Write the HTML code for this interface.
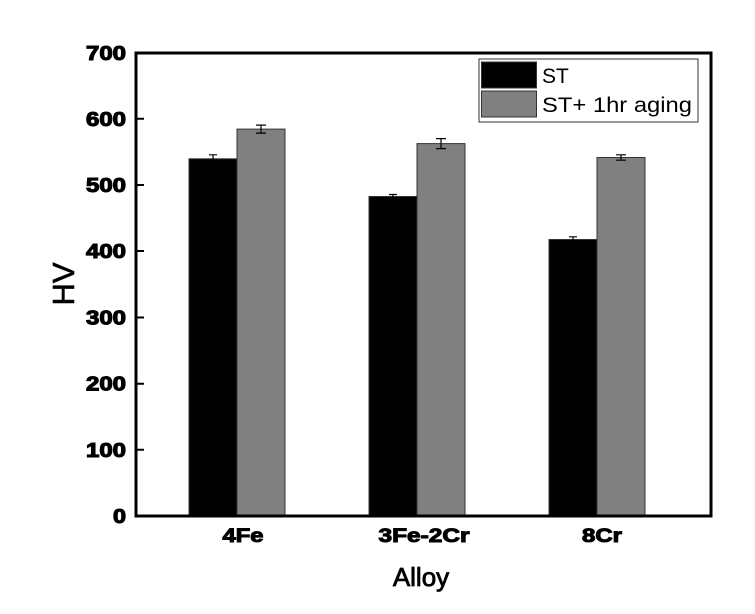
<!DOCTYPE html>
<html><head><meta charset="utf-8"><style>body{margin:0;background:#fff}</style></head>
<body>
<svg width="755" height="609" xmlns="http://www.w3.org/2000/svg" font-family="Liberation Sans, Arial, sans-serif">
<rect width="755" height="609" fill="#fff"/>
<g stroke="#333" stroke-width="1">
<rect x="189" y="158.8" width="48" height="357.2" fill="#000"/>
<rect x="237" y="129.1" width="48" height="386.9" fill="#808080"/>
<rect x="369" y="196.5" width="48" height="319.5" fill="#000"/>
<rect x="417" y="143.6" width="48" height="372.4" fill="#808080"/>
<rect x="549" y="239.5" width="48" height="276.5" fill="#000"/>
<rect x="597" y="157.5" width="48" height="358.5" fill="#808080"/>
</g>
<g stroke="#000" stroke-width="1.2" fill="none">
<path d="M213 154.8V162.8M209 154.8H217"/>
<path d="M261 125.1V133.1M256 125.1H266M256 133.1H266"/>
<path d="M393 194.5V198.5M389 194.5H397"/>
<path d="M441 138.6V148.6M436 138.6H446M436 148.6H446"/>
<path d="M573 236.8V242.2M569 236.8H577"/>
<path d="M621 154.8V160.2M616 154.8H626M616 160.2H626"/>
</g>
<rect x="136" y="53" width="575" height="463" fill="none" stroke="#000" stroke-width="3"/>
<g stroke="#000" stroke-width="2">
<path d="M136 118.8h8M136 185h8M136 251h8M136 317.5h8M136 383.7h8M136 449.8h8"/>
</g>
<g font-weight="bold" font-size="20" stroke="#000" stroke-width="1.1" text-anchor="end">
<text x="126" y="60" textLength="40" lengthAdjust="spacingAndGlyphs">700</text>
<text x="126" y="126" textLength="40" lengthAdjust="spacingAndGlyphs">600</text>
<text x="126" y="192" textLength="40" lengthAdjust="spacingAndGlyphs">500</text>
<text x="126" y="258" textLength="40" lengthAdjust="spacingAndGlyphs">400</text>
<text x="126" y="324.5" textLength="40" lengthAdjust="spacingAndGlyphs">300</text>
<text x="126" y="390.7" textLength="40" lengthAdjust="spacingAndGlyphs">200</text>
<text x="126" y="456.8" textLength="40" lengthAdjust="spacingAndGlyphs">100</text>
<text x="126" y="523" textLength="13" lengthAdjust="spacingAndGlyphs">0</text>
</g>
<g font-weight="bold" font-size="19" stroke="#000" stroke-width="1" text-anchor="middle">
<text x="243" y="542" textLength="41" lengthAdjust="spacingAndGlyphs">4Fe</text>
<text x="424" y="542" textLength="91" lengthAdjust="spacingAndGlyphs">3Fe-2Cr</text>
<text x="602" y="542" textLength="40" lengthAdjust="spacingAndGlyphs">8Cr</text>
</g>
<text x="421" y="586" font-size="26" stroke="#000" stroke-width="0.8" text-anchor="middle">Alloy</text>
<text transform="translate(74,284) rotate(-90)" font-size="31" stroke="#000" stroke-width="0.6" text-anchor="middle">HV</text>
<rect x="479" y="59" width="219" height="63" fill="#fff" stroke="#333" stroke-width="1"/>
<rect x="481.5" y="62" width="55" height="26" fill="#000" stroke="#333"/>
<rect x="481.5" y="91" width="55" height="26" fill="#808080" stroke="#333"/>
<text x="542" y="83" font-size="21">ST</text>
<text x="542" y="112" font-size="21" textLength="150" lengthAdjust="spacingAndGlyphs">ST+ 1hr aging</text>
</svg>
</body></html>
